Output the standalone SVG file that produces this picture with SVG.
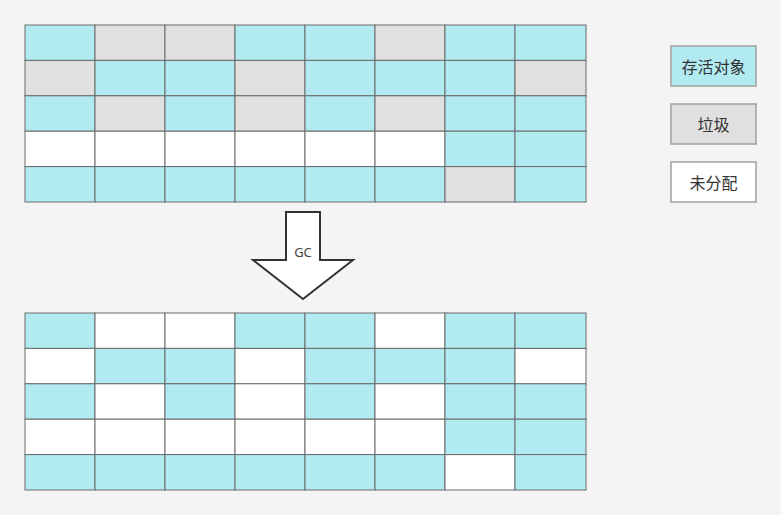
<svg xmlns="http://www.w3.org/2000/svg" width="781" height="515" viewBox="0 0 781 515">
<style>
.b{fill:#b1ebf1;stroke:#6a6a6a;stroke-width:1}
.g{fill:#e0e0e0;stroke:#6a6a6a;stroke-width:1}
.w{fill:#ffffff;stroke:#6a6a6a;stroke-width:1}
.lb{stroke:#a0a0a0;stroke-width:1.5}
.t{font-family:"Noto Sans CJK SC","Noto Sans",sans-serif;font-size:16px;fill:#333;text-anchor:middle;dominant-baseline:central}
</style>
<rect width="781" height="515" fill="#f4f4f4"/>
<g id="grid-before">
<rect class="b" x="25" y="25" width="70" height="35.4"/><rect class="g" x="95" y="25" width="70" height="35.4"/><rect class="g" x="165" y="25" width="70" height="35.4"/><rect class="b" x="235" y="25" width="70" height="35.4"/><rect class="b" x="305" y="25" width="70" height="35.4"/><rect class="g" x="375" y="25" width="70" height="35.4"/><rect class="b" x="445" y="25" width="70" height="35.4"/><rect class="b" x="515" y="25" width="71" height="35.4"/>
<rect class="g" x="25" y="60.4" width="70" height="35.4"/><rect class="b" x="95" y="60.4" width="70" height="35.4"/><rect class="b" x="165" y="60.4" width="70" height="35.4"/><rect class="g" x="235" y="60.4" width="70" height="35.4"/><rect class="b" x="305" y="60.4" width="70" height="35.4"/><rect class="b" x="375" y="60.4" width="70" height="35.4"/><rect class="b" x="445" y="60.4" width="70" height="35.4"/><rect class="g" x="515" y="60.4" width="71" height="35.4"/>
<rect class="b" x="25" y="95.8" width="70" height="35.4"/><rect class="g" x="95" y="95.8" width="70" height="35.4"/><rect class="b" x="165" y="95.8" width="70" height="35.4"/><rect class="g" x="235" y="95.8" width="70" height="35.4"/><rect class="b" x="305" y="95.8" width="70" height="35.4"/><rect class="g" x="375" y="95.8" width="70" height="35.4"/><rect class="b" x="445" y="95.8" width="70" height="35.4"/><rect class="b" x="515" y="95.8" width="71" height="35.4"/>
<rect class="w" x="25" y="131.2" width="70" height="35.4"/><rect class="w" x="95" y="131.2" width="70" height="35.4"/><rect class="w" x="165" y="131.2" width="70" height="35.4"/><rect class="w" x="235" y="131.2" width="70" height="35.4"/><rect class="w" x="305" y="131.2" width="70" height="35.4"/><rect class="w" x="375" y="131.2" width="70" height="35.4"/><rect class="b" x="445" y="131.2" width="70" height="35.4"/><rect class="b" x="515" y="131.2" width="71" height="35.4"/>
<rect class="b" x="25" y="166.6" width="70" height="35.4"/><rect class="b" x="95" y="166.6" width="70" height="35.4"/><rect class="b" x="165" y="166.6" width="70" height="35.4"/><rect class="b" x="235" y="166.6" width="70" height="35.4"/><rect class="b" x="305" y="166.6" width="70" height="35.4"/><rect class="b" x="375" y="166.6" width="70" height="35.4"/><rect class="g" x="445" y="166.6" width="70" height="35.4"/><rect class="b" x="515" y="166.6" width="71" height="35.4"/>
</g>
<g id="grid-after">
<rect class="b" x="25" y="313" width="70" height="35.4"/><rect class="w" x="95" y="313" width="70" height="35.4"/><rect class="w" x="165" y="313" width="70" height="35.4"/><rect class="b" x="235" y="313" width="70" height="35.4"/><rect class="b" x="305" y="313" width="70" height="35.4"/><rect class="w" x="375" y="313" width="70" height="35.4"/><rect class="b" x="445" y="313" width="70" height="35.4"/><rect class="b" x="515" y="313" width="71" height="35.4"/>
<rect class="w" x="25" y="348.4" width="70" height="35.4"/><rect class="b" x="95" y="348.4" width="70" height="35.4"/><rect class="b" x="165" y="348.4" width="70" height="35.4"/><rect class="w" x="235" y="348.4" width="70" height="35.4"/><rect class="b" x="305" y="348.4" width="70" height="35.4"/><rect class="b" x="375" y="348.4" width="70" height="35.4"/><rect class="b" x="445" y="348.4" width="70" height="35.4"/><rect class="w" x="515" y="348.4" width="71" height="35.4"/>
<rect class="b" x="25" y="383.8" width="70" height="35.4"/><rect class="w" x="95" y="383.8" width="70" height="35.4"/><rect class="b" x="165" y="383.8" width="70" height="35.4"/><rect class="w" x="235" y="383.8" width="70" height="35.4"/><rect class="b" x="305" y="383.8" width="70" height="35.4"/><rect class="w" x="375" y="383.8" width="70" height="35.4"/><rect class="b" x="445" y="383.8" width="70" height="35.4"/><rect class="b" x="515" y="383.8" width="71" height="35.4"/>
<rect class="w" x="25" y="419.2" width="70" height="35.4"/><rect class="w" x="95" y="419.2" width="70" height="35.4"/><rect class="w" x="165" y="419.2" width="70" height="35.4"/><rect class="w" x="235" y="419.2" width="70" height="35.4"/><rect class="w" x="305" y="419.2" width="70" height="35.4"/><rect class="w" x="375" y="419.2" width="70" height="35.4"/><rect class="b" x="445" y="419.2" width="70" height="35.4"/><rect class="b" x="515" y="419.2" width="71" height="35.4"/>
<rect class="b" x="25" y="454.6" width="70" height="35.4"/><rect class="b" x="95" y="454.6" width="70" height="35.4"/><rect class="b" x="165" y="454.6" width="70" height="35.4"/><rect class="b" x="235" y="454.6" width="70" height="35.4"/><rect class="b" x="305" y="454.6" width="70" height="35.4"/><rect class="b" x="375" y="454.6" width="70" height="35.4"/><rect class="w" x="445" y="454.6" width="70" height="35.4"/><rect class="b" x="515" y="454.6" width="71" height="35.4"/>
</g>
<g id="gc-arrow">
<polygon points="286,212 320,212 320,260 353,260 303,299 253,260 286,260" fill="#ffffff" stroke="#333" stroke-width="2" stroke-linejoin="miter"/>
<text x="303" y="252" font-family="'Noto Sans','Liberation Sans',sans-serif" font-size="13" fill="#444" text-anchor="middle" dominant-baseline="central">GC</text>
</g>
<g id="legend-live">
<rect class="lb" x="671" y="46" width="85" height="40" fill="#b1ebf1"/>
<text class="t" x="713.5" y="66">存活对象</text>
</g>
<g id="legend-garbage">
<rect class="lb" x="671" y="104" width="85" height="40" fill="#e0e0e0"/>
<text class="t" x="713.5" y="124">垃圾</text>
</g>
<g id="legend-free">
<rect class="lb" x="671" y="162" width="85" height="40" fill="#ffffff"/>
<text class="t" x="713.5" y="182">未分配</text>
</g>
</svg>
